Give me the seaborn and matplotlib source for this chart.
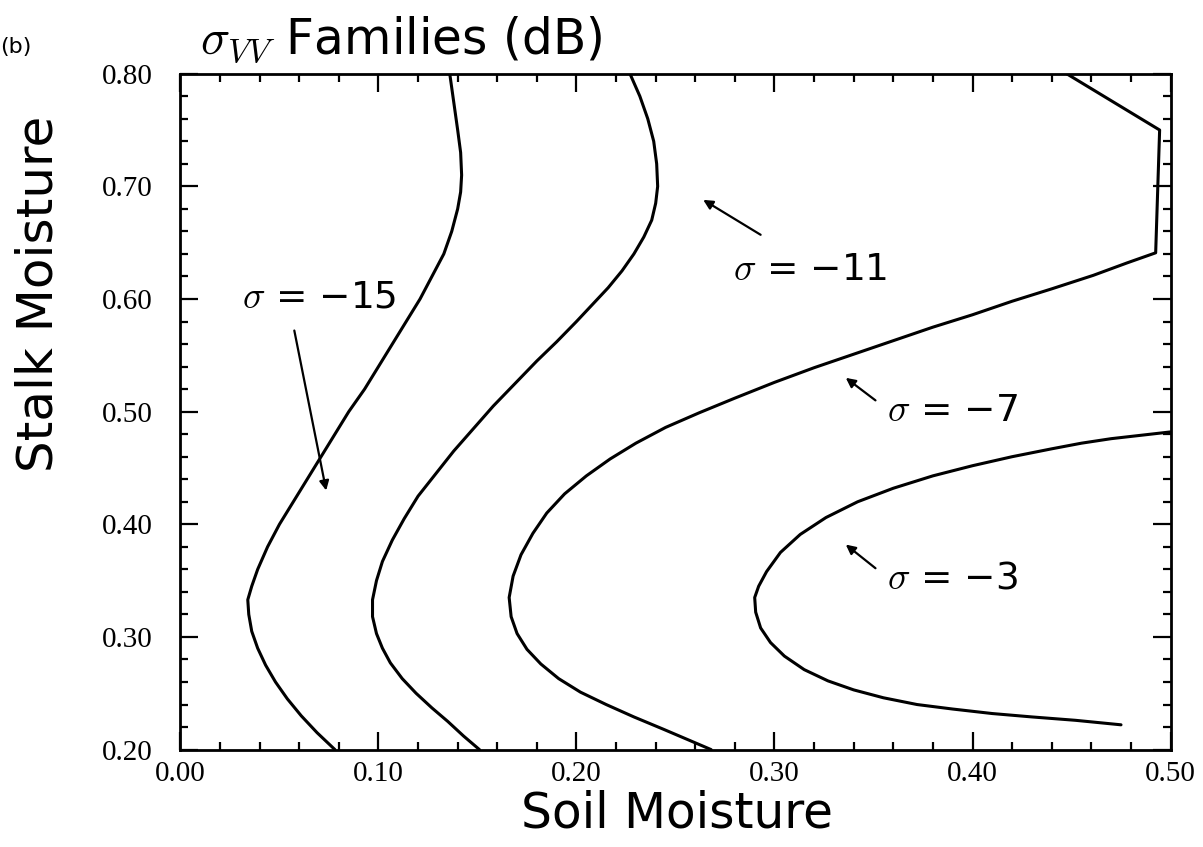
import matplotlib
matplotlib.use("Agg")
import matplotlib.pyplot as plt
import seaborn as sns
import pandas as pd
from matplotlib.ticker import MultipleLocator

# ---- data (soil moisture x, stalk moisture y) ----
levels = [-15, -11, -7, -3]

c15_x = [0.136, 0.138, 0.140, 0.1415, 0.142, 0.1415, 0.140, 0.137, 0.133, 0.127, 0.121, 0.114, 0.107, 0.100,
         0.093, 0.085, 0.078, 0.071, 0.064, 0.057, 0.050, 0.044, 0.039, 0.036, 0.034, 0.0345, 0.036, 0.039,
         0.043, 0.048, 0.054, 0.061, 0.069, 0.078]
c15_y = [0.800, 0.775, 0.750, 0.730, 0.710, 0.695, 0.680, 0.660, 0.640, 0.620, 0.600, 0.580, 0.560, 0.540,
         0.520, 0.500, 0.480, 0.460, 0.440, 0.420, 0.400, 0.380, 0.360, 0.345, 0.333, 0.320, 0.305, 0.290,
         0.275, 0.260, 0.245, 0.230, 0.215, 0.200]

c11_x = [0.227, 0.232, 0.236, 0.239, 0.2405, 0.241, 0.240, 0.238, 0.234, 0.229, 0.223, 0.216, 0.208, 0.200,
         0.190, 0.180, 0.169, 0.158, 0.148, 0.138, 0.129, 0.120, 0.113, 0.107, 0.102, 0.099, 0.097, 0.097,
         0.099, 0.102, 0.106, 0.112, 0.119, 0.127, 0.135, 0.143, 0.151]
c11_y = [0.800, 0.780, 0.760, 0.740, 0.720, 0.700, 0.685, 0.670, 0.655, 0.640, 0.625, 0.610, 0.595, 0.580,
         0.562, 0.545, 0.525, 0.505, 0.485, 0.465, 0.445, 0.425, 0.405, 0.386, 0.367, 0.350, 0.333, 0.318,
         0.303, 0.290, 0.277, 0.263, 0.250, 0.237, 0.225, 0.212, 0.200]

c7_x = [0.4475, 0.4945, 0.4925, 0.478, 0.461, 0.440, 0.420, 0.400, 0.380, 0.360, 0.340, 0.320, 0.300, 0.280,
        0.262, 0.245, 0.230, 0.217, 0.205, 0.194, 0.185, 0.178, 0.172, 0.168, 0.166, 0.167, 0.170, 0.175,
        0.182, 0.191, 0.202, 0.215, 0.229, 0.244, 0.260, 0.268]
c7_y = [0.800, 0.750, 0.641, 0.632, 0.621, 0.609, 0.598, 0.586, 0.575, 0.563, 0.551, 0.539, 0.526, 0.512,
        0.499, 0.486, 0.472, 0.458, 0.443, 0.427, 0.410, 0.392, 0.373, 0.354, 0.335, 0.318, 0.303, 0.289,
        0.276, 0.263, 0.251, 0.240, 0.229, 0.218, 0.206, 0.200]

c3_x = [0.500, 0.485, 0.470, 0.455, 0.440, 0.420, 0.400, 0.380, 0.360, 0.342, 0.326, 0.313, 0.303, 0.296,
        0.292, 0.290, 0.2905, 0.293, 0.298, 0.305, 0.315, 0.327, 0.340, 0.355, 0.372, 0.390, 0.410, 0.430,
        0.452, 0.475]
c3_y = [0.482, 0.479, 0.476, 0.472, 0.467, 0.460, 0.452, 0.443, 0.432, 0.420, 0.406, 0.391, 0.375, 0.358,
        0.345, 0.335, 0.322, 0.308, 0.295, 0.283, 0.271, 0.261, 0.253, 0.246, 0.240, 0.236, 0.232, 0.229,
        0.226, 0.222]

xticks = [0.00, 0.10, 0.20, 0.30, 0.40, 0.50]
yticks = [0.20, 0.30, 0.40, 0.50, 0.60, 0.70, 0.80]

# label text positions (data coords) and arrows (tail -> tip)
label_xy = {-15: (0.031, 0.601), -11: (0.279, 0.626), -7: (0.357, 0.501), -3: (0.357, 0.352)}
arrow_tail = {-15: (0.0575, 0.572), -11: (0.293, 0.657), -7: (0.351, 0.510), -3: (0.351, 0.361)}
arrow_tip = {-15: (0.0736, 0.430), -11: (0.264, 0.688), -7: (0.336, 0.530), -3: (0.336, 0.382)}

sns.set_theme(style="white")
plt.rcParams["font.family"] = ["DejaVu Sans"]
plt.rcParams["mathtext.fontset"] = "cm"
plt.rcParams["text.color"] = "black"

fig = plt.figure(figsize=(12.03, 8.47), dpi=100)
ax = fig.add_axes([0.150, 0.115, 0.823, 0.798])

curves = {-15: (c15_x, c15_y), -11: (c11_x, c11_y), -7: (c7_x, c7_y), -3: (c3_x, c3_y)}
for lev in levels:
    xs, ys = curves[lev]
    df = pd.DataFrame({"soil": xs, "stalk": ys})
    sns.lineplot(data=df, x="soil", y="stalk", sort=False, estimator=None, color="black",
                 linewidth=2.2, ax=ax)

for lev in levels:
    lx, ly = label_xy[lev]
    ax.text(lx, ly, r"$\sigma$ = −%d" % abs(lev), fontsize=27, ha="left", va="center",
            color="black")
    ax.annotate("", xy=arrow_tip[lev], xytext=arrow_tail[lev],
                arrowprops=dict(arrowstyle="-|>", color="black", lw=1.6,
                                mutation_scale=14, shrinkA=0, shrinkB=0))

ax.set_xlim(0.0, 0.5)
ax.set_ylim(0.2, 0.8)
ax.set_xticks(xticks)
ax.set_yticks(yticks)
ax.set_xticklabels(["%.2f" % v for v in xticks], fontfamily="Liberation Serif", fontsize=21)
ax.set_yticklabels(["%.2f" % v for v in yticks], fontfamily="Liberation Serif", fontsize=21)
ax.xaxis.set_minor_locator(MultipleLocator(0.02))
ax.yaxis.set_minor_locator(MultipleLocator(0.02))
ax.tick_params(which="both", direction="in", top=True, right=True, bottom=True, left=True,
               color="black", labelcolor="black")
ax.tick_params(which="major", length=13, width=1.6)
ax.tick_params(which="minor", length=6, width=1.6)
ax.tick_params(axis="x", which="major", pad=8)
ax.tick_params(axis="y", which="major", pad=20)
for s in ax.spines.values():
    s.set_color("black")
    s.set_linewidth(2.0)
ax.set_xlabel("")
ax.set_ylabel("")

fig.text(0.032, 0.653, "Stalk Moisture", rotation=90, fontsize=36, ha="center", va="center",
         color="black")
fig.text(0.563, 0.040, "Soil Moisture", fontsize=35, ha="center", va="center", color="black")
fig.text(0.166, 0.953, r"$\sigma_{VV}$ Families (dB)", fontsize=35, ha="left", va="center",
         color="black")
fig.text(0.0, 0.944, "(b)", fontsize=16, ha="left", va="center", color="black")

fig.savefig("out.png", dpi=100, facecolor="white")
